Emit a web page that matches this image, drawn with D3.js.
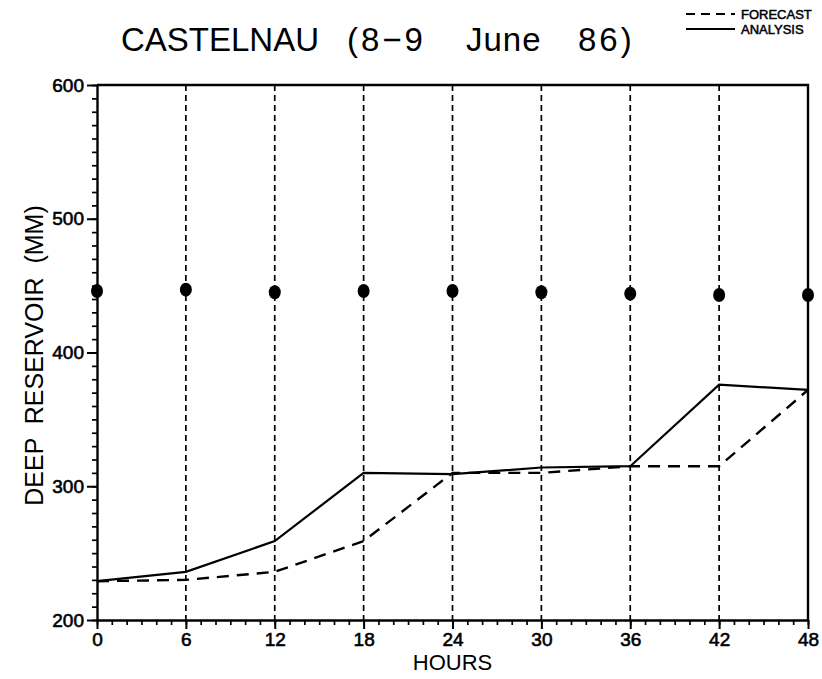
<!DOCTYPE html>
<html>
<head>
<meta charset="utf-8">
<script src="https://cdn.jsdelivr.net/npm/d3@7"></script>
<style>
  body { margin: 0; background: #fff; }
  text { font-family: "Liberation Sans", Arial, sans-serif; fill: #000; }
</style>
</head>
<body>
<div id="my_dataviz"></div>
<script>
// data
const hours = [0, 6, 12, 18, 24, 30, 36, 42, 48];
const analysis = [229, 236, 259, 310, 309, 314, 315, 376, 372];
const forecast = [229, 230, 236, 259, 310, 310, 315, 315, 372];
const observed = [446, 447, 445, 446, 446, 445, 444, 443, 443];
const xTicks = [0, 6, 12, 18, 24, 30, 36, 42, 48];
const yTicks = [200, 300, 400, 500, 600];
const titleWords = ["CASTELNAU", "(8\u22129", "June", "86)"];

const W = 822, H = 679;
const margin = {top: 85, right: 14, bottom: 59, left: 97};
const width = W - margin.left - margin.right,
      height = H - margin.top - margin.bottom;

const svgRoot = d3.select("#my_dataviz")
  .append("svg")
  .attr("width", W)
  .attr("height", H);

const svg = svgRoot.append("g")
  .attr("transform", `translate(${margin.left}, ${margin.top})`);

const x = d3.scaleLinear().domain([0, 48]).range([0, width]);
const y = d3.scaleLinear().domain([200, 600]).range([height, 0]);

// vertical dashed lines every 6 hours
svg.selectAll("line.grid")
  .data(xTicks.filter(d => d > 0 && d < 48))
  .join("line")
    .attr("class", "grid")
    .attr("x1", d => x(d)).attr("x2", d => x(d))
    .attr("y1", 0).attr("y2", height)
    .attr("stroke", "#000")
    .attr("stroke-width", 1.7)
    .attr("stroke-dasharray", "6,4");

// minor ticks
svg.append("g")
  .attr("transform", `translate(0, ${height})`)
  .call(d3.axisBottom(x).tickValues(d3.range(0, 49, 1)).tickSize(5).tickFormat("").tickSizeOuter(0))
  .call(g => g.select(".domain").remove())
  .selectAll("line").attr("stroke-width", 1.7);

svg.append("g")
  .call(d3.axisLeft(y).tickValues(d3.range(200, 601, 10)).tickSize(5).tickFormat("").tickSizeOuter(0))
  .call(g => g.select(".domain").remove())
  .selectAll("line").attr("stroke-width", 1.7);

// major axes
const xAxis = svg.append("g")
  .attr("transform", `translate(0, ${height})`)
  .call(d3.axisBottom(x).tickValues(xTicks).tickSize(9).tickPadding(4).tickSizeOuter(0));
xAxis.select(".domain").attr("stroke-width", 2.4);
xAxis.selectAll("line").attr("stroke-width", 2);
xAxis.selectAll("text")
  .attr("font-size", 19)
  .attr("stroke", "#000").attr("stroke-width", 0.6);

const yAxis = svg.append("g")
  .call(d3.axisLeft(y).tickValues(yTicks).tickSize(10).tickPadding(3).tickSizeOuter(0));
yAxis.select(".domain").attr("stroke-width", 2.4);
yAxis.selectAll("line").attr("stroke-width", 2);
yAxis.selectAll("text")
  .attr("font-size", 19)
  .attr("stroke", "#000").attr("stroke-width", 0.6);

// top and right frame
svg.append("path")
  .attr("d", `M0,0H${width}V${height}`)
  .attr("fill", "none")
  .attr("stroke", "#000")
  .attr("stroke-width", 2.4);

const line = d3.line().x((d, i) => x(hours[i])).y(d => y(d));

svg.append("path")
  .datum(forecast)
  .attr("d", line)
  .attr("fill", "none")
  .attr("stroke", "#000")
  .attr("stroke-width", 2.4)
  .attr("stroke-dasharray", "12,8");

svg.append("path")
  .datum(analysis)
  .attr("d", line)
  .attr("fill", "none")
  .attr("stroke", "#000")
  .attr("stroke-width", 2.2);

svg.selectAll("ellipse.obs")
  .data(observed)
  .join("ellipse")
    .attr("class", "obs")
    .attr("cx", (d, i) => x(hours[i]))
    .attr("cy", d => y(d))
    .attr("rx", 6)
    .attr("ry", 7)
    .attr("fill", "#000");

// title, one word at a time; the digits in the original are set a bit wider
const titleX = [121, 347, 466, 578];
const titleSpacing = [0, 3, 1, 3];
svgRoot.append("text")
  .attr("y", 51)
  .attr("font-size", 33)
  .selectAll("tspan")
  .data(titleWords)
  .join("tspan")
    .attr("x", (d, i) => titleX[i])
    .style("letter-spacing", (d, i) => titleSpacing[i] + "px")
    .text(d => d);

svgRoot.append("text")
  .attr("x", margin.left + width / 2).attr("y", 670)
  .attr("text-anchor", "middle")
  .attr("font-size", 22)
  .text("HOURS");

svgRoot.append("text")
  .attr("transform", `translate(43, ${margin.top + height / 2 + 3}) rotate(-90)`)
  .attr("text-anchor", "middle")
  .attr("font-size", 25)
  .style("white-space", "pre")
  .text("DEEP  RESERVOIR  (MM)");

// legend
const legend = svgRoot.append("g");
legend.append("line")
  .attr("x1", 686).attr("x2", 735).attr("y1", 14).attr("y2", 14)
  .attr("stroke", "#000").attr("stroke-width", 2).attr("stroke-dasharray", "9,6");
legend.append("line")
  .attr("x1", 686).attr("x2", 735).attr("y1", 29).attr("y2", 29)
  .attr("stroke", "#000").attr("stroke-width", 2);
legend.append("text")
  .attr("x", 741).attr("y", 19)
  .attr("font-size", 13)
  .attr("font-family", "Liberation Sans Narrow, sans-serif")
  .attr("stroke", "#000").attr("stroke-width", 0.5)
  .text("FORECAST");
legend.append("text")
  .attr("x", 741).attr("y", 34)
  .attr("font-size", 13)
  .attr("font-family", "Liberation Sans Narrow, sans-serif")
  .attr("stroke", "#000").attr("stroke-width", 0.5)
  .text("ANALYSIS");
</script>
</body>
</html>
